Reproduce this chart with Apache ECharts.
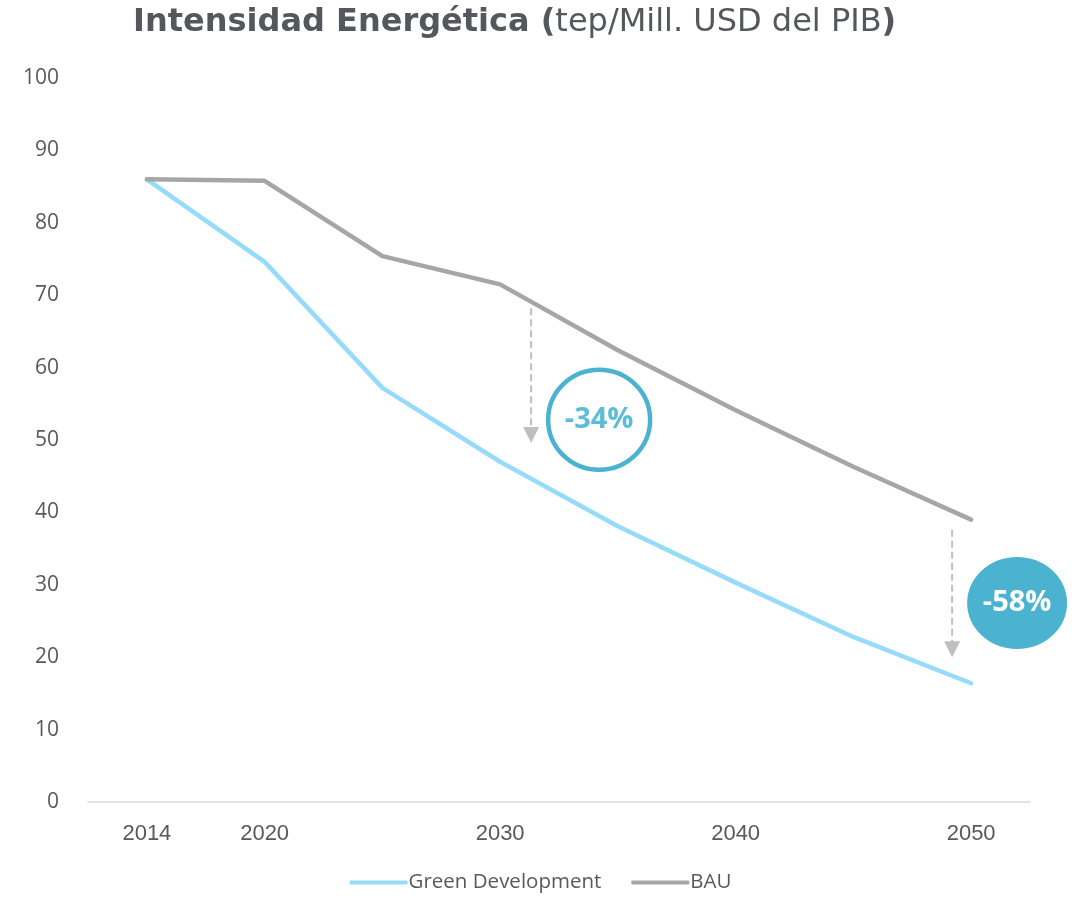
<!DOCTYPE html>
<html>
<head>
<meta charset="utf-8">
<script src="https://cdn.jsdelivr.net/npm/echarts@6/dist/echarts.min.js"></script>
<style>
  html, body { margin: 0; padding: 0; background: #fff; }
  #main { width: 1081px; height: 898px; }
</style>
</head>
<body>
<div id="main"></div>
<script>
// datos
var years = ['2014', '2020', '2025', '2030', '2035', '2040', '2045', '2050'];
var shownYears = ['2014', '2020', '2030', '2040', '2050'];
var greenDev = [86.0, 74.6, 57.2, 47.0, 38.1, 30.3, 22.8, 16.4];
var bau = [86.0, 85.8, 75.4, 71.5, 62.4, 54.1, 46.3, 39.0];
// flechas: año, desplazamiento, valor inicial -> valor final
var arrows = [
  { year: '2030', dx: 31, from: 68.2, to: 49.6 },
  { year: '2050', dx: -19, from: 37.6, to: 20.0 }
];
var badges = [
  { year: '2030', dx: 99, value: 52.8, text: '-34%', filled: false },
  { year: '2050', dx: 46, value: 27.5, text: '-58%', filled: true }
];

var myChart = echarts.init(document.getElementById('main'));

var option = {
  animation: false,
  title: {
    left: 128,
    top: 2,
    text: '{b|Intensidad Energética (}{n|tep/Mill. USD del PIB}{b|)}',
    textStyle: {
      rich: {
        b: { fontFamily: 'DejaVu Sans', fontWeight: 'bold', fontSize: 32, color: '#54585c' },
        n: { fontFamily: 'DejaVu Sans', fontWeight: 'normal', fontSize: 32, color: '#54585c' }
      }
    }
  },
  legend: {
    bottom: 0,
    left: 'center',
    itemWidth: 58,
    itemHeight: 4,
    itemGap: 30,
    icon: 'roundRect',
    textStyle: { fontFamily: 'Open Sans', fontSize: 20.5, color: '#595959', padding: [0, 0, 0, -4] },
    data: ['Green Development', 'BAU']
  },
  grid: { left: 88, right: 51, top: 78, bottom: 96 },
  xAxis: {
    type: 'category',
    data: years,
    boundaryGap: true,
    axisLine: { lineStyle: { color: '#d9d9d9', width: 1.5 } },
    axisTick: { show: false },
    axisLabel: {
      margin: 21,
      color: '#595959',
      fontSize: 22,
      fontFamily: 'Liberation Sans Narrow, Liberation Sans',
      interval: function (idx, val) { return shownYears.indexOf(val) >= 0; }
    },
    splitLine: { show: false }
  },
  yAxis: {
    type: 'value',
    min: 0,
    max: 100,
    interval: 10,
    axisLine: { show: false },
    axisTick: { show: false },
    splitLine: { show: false },
    axisLabel: { margin: 29, color: '#595959', fontSize: 21, fontFamily: 'Open Sans' }
  },
  series: [
    {
      name: 'Green Development',
      type: 'line',
      data: greenDev,
      symbol: 'none',
      lineStyle: { color: '#97dbfa', width: 4.5, cap: 'round' },
      itemStyle: { color: '#97dbfa' }
    },
    {
      name: 'BAU',
      type: 'line',
      data: bau,
      symbol: 'none',
      lineStyle: { color: '#a6a6a6', width: 4.5, cap: 'round' },
      itemStyle: { color: '#a6a6a6' }
    }
  ]
};
myChart.setOption(option);

// anotaciones
var graphics = [];
arrows.forEach(function (a) {
  var p1 = myChart.convertToPixel({ gridIndex: 0 }, [a.year, a.from]);
  var p2 = myChart.convertToPixel({ gridIndex: 0 }, [a.year, a.to]);
  var x = p1[0] + a.dx;
  graphics.push({
    type: 'line',
    shape: { x1: x, y1: p1[1], x2: x, y2: p2[1] - 14 },
    style: { stroke: '#bfbfbf', lineWidth: 2, lineDash: [7, 4] },
    silent: true
  });
  graphics.push({
    type: 'polygon',
    shape: { points: [[x - 8, p2[1] - 16], [x + 8, p2[1] - 16], [x, p2[1]]] },
    style: { fill: '#bfbfbf' },
    silent: true
  });
});
badges.forEach(function (b) {
  var p = myChart.convertToPixel({ gridIndex: 0 }, [b.year, b.value]);
  var cx = p[0] + b.dx;
  graphics.push({
    type: 'ellipse',
    shape: { cx: cx, cy: p[1], rx: b.filled ? 50 : 51, ry: b.filled ? 46 : 50 },
    style: b.filled ? { fill: '#4bb3d0' } : { fill: '#fff', stroke: '#4bb3d0', lineWidth: 4.5 },
    silent: true
  });
  graphics.push({
    type: 'text',
    x: cx,
    y: p[1],
    style: {
      text: b.text,
      fill: b.filled ? '#ffffff' : '#5bbdd8',
      font: 'bold 29px "Open Sans"',
      align: 'center',
      verticalAlign: 'middle'
    },
    silent: true
  });
});
myChart.setOption({ graphic: graphics });
</script>
</body>
</html>
